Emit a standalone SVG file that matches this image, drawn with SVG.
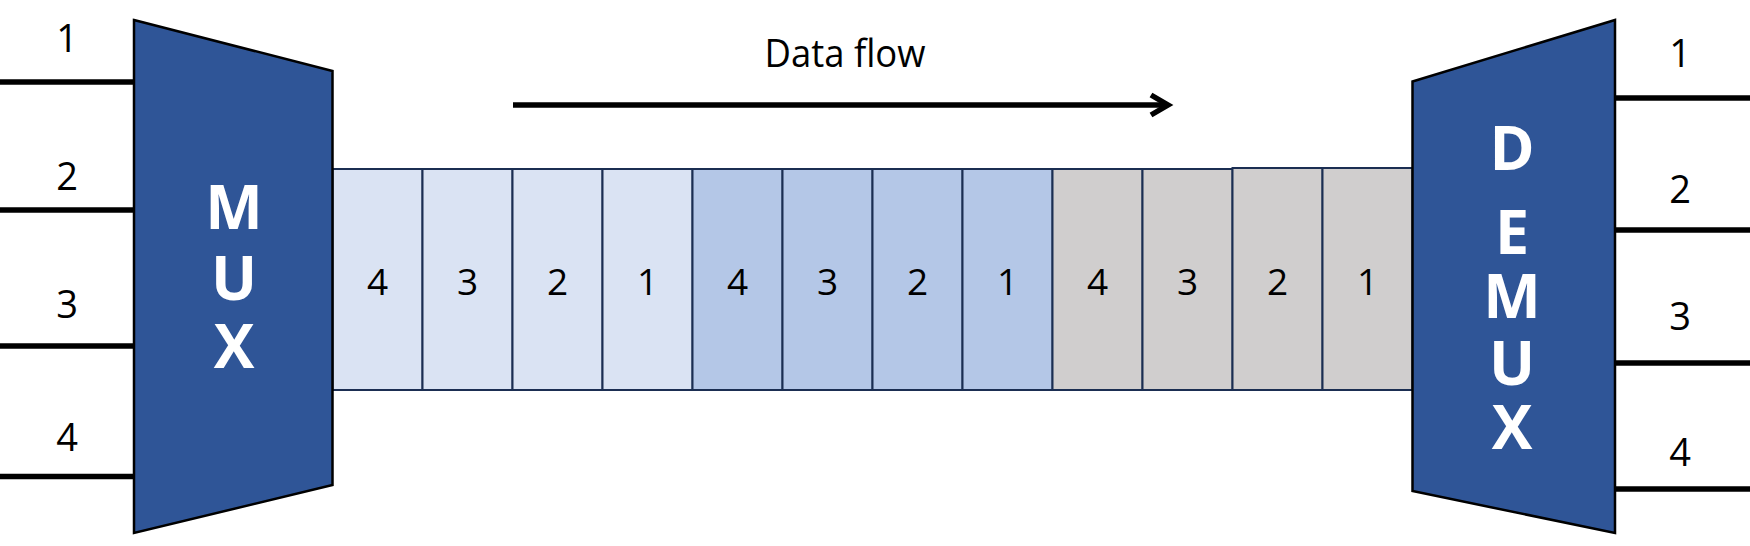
<svg xmlns="http://www.w3.org/2000/svg" width="1750" height="546" viewBox="0 0 1750 546">
<style>
.lbl{font-family:"Open Sans","Noto Sans",sans-serif;font-size:38px;fill:#000;text-anchor:middle}
.cell text{font-family:"Open Sans","Noto Sans",sans-serif;font-size:37px;fill:#000;text-anchor:middle}
.big{font-family:"Open Sans","Noto Sans",sans-serif;font-size:61px;font-weight:bold;fill:#fff;text-anchor:middle}
.box{fill:#2F5597;stroke:#000;stroke-width:2.5}
.wire{stroke:#000;stroke-width:5.5;fill:none}
.c1{fill:#DAE3F3;stroke:#1B2E52;stroke-width:2}
.c2{fill:#B4C7E7;stroke:#1B2E52;stroke-width:2}
.c3{fill:#D0CECE;stroke:#1B2E52;stroke-width:2}
</style>
<rect width="1750" height="546" fill="#fff"/>
<g id="connectors">
<line class="wire" x1="0" y1="82" x2="134" y2="82"/>
<line class="wire" x1="0" y1="210" x2="134" y2="210"/>
<line class="wire" x1="0" y1="346" x2="134" y2="346"/>
<line class="wire" x1="0" y1="476.5" x2="134" y2="476.5"/>
<line class="wire" x1="1615" y1="98" x2="1750" y2="98"/>
<line class="wire" x1="1615" y1="230" x2="1750" y2="230"/>
<line class="wire" x1="1615" y1="363" x2="1750" y2="363"/>
<line class="wire" x1="1615" y1="489" x2="1750" y2="489"/>
<line class="wire" x1="513" y1="105" x2="1168" y2="105"/>
<polyline class="wire" points="1151,95 1168,105 1151,115"/>
</g>
<g id="input-labels">
<text class="lbl" x="67" y="52">1</text>
<text class="lbl" x="67" y="190">2</text>
<text class="lbl" x="67" y="318">3</text>
<text class="lbl" x="67" y="451">4</text>
</g>
<g id="output-labels">
<text class="lbl" x="1680" y="67">1</text>
<text class="lbl" x="1680" y="203">2</text>
<text class="lbl" x="1680" y="330">3</text>
<text class="lbl" x="1680" y="466">4</text>
</g>
<g id="data-flow-label">
<text x="845" y="67" style="font-family:'Open Sans','Noto Sans',sans-serif;font-size:38px;fill:#000;text-anchor:middle" textLength="161" lengthAdjust="spacingAndGlyphs">Data flow</text>
</g>
<g id="frame" class="cell">
<rect class="c1" x="332.5" y="169" width="90" height="221"/><text x="377.5" y="295">4</text>
<rect class="c1" x="422.5" y="169" width="90" height="221"/><text x="467.5" y="295">3</text>
<rect class="c1" x="512.5" y="169" width="90" height="221"/><text x="557.5" y="295">2</text>
<rect class="c1" x="602.5" y="169" width="90" height="221"/><text x="647.5" y="295">1</text>
<rect class="c2" x="692.5" y="169" width="90" height="221"/><text x="737.5" y="295">4</text>
<rect class="c2" x="782.5" y="169" width="90" height="221"/><text x="827.5" y="295">3</text>
<rect class="c2" x="872.5" y="169" width="90" height="221"/><text x="917.5" y="295">2</text>
<rect class="c2" x="962.5" y="169" width="90" height="221"/><text x="1007.5" y="295">1</text>
<rect class="c3" x="1052.5" y="169" width="90" height="221"/><text x="1097.5" y="295">4</text>
<rect class="c3" x="1142.5" y="169" width="90" height="221"/><text x="1187.5" y="295">3</text>
<rect class="c3" x="1232.5" y="168" width="90" height="222"/><text x="1277.5" y="295">2</text>
<rect class="c3" x="1322.5" y="168" width="90" height="222"/><text x="1367.5" y="295">1</text>
</g>
<g id="mux">
<polygon class="box" points="134,20 332.5,71 332.5,485 134,533"/>
<text class="big" x="234" y="229">M</text>
<text class="big" x="234" y="300">U</text>
<text class="big" x="234" y="368">X</text>
</g>
<g id="demux">
<polygon class="box" points="1412.5,81.5 1615,20 1615,533 1412.5,491"/>
<text class="big" x="1512" y="170">D</text>
<text class="big" x="1512" y="254">E</text>
<text class="big" x="1512" y="318">M</text>
<text class="big" x="1512" y="385">U</text>
<text class="big" x="1512" y="449">X</text>
</g>
</svg>
